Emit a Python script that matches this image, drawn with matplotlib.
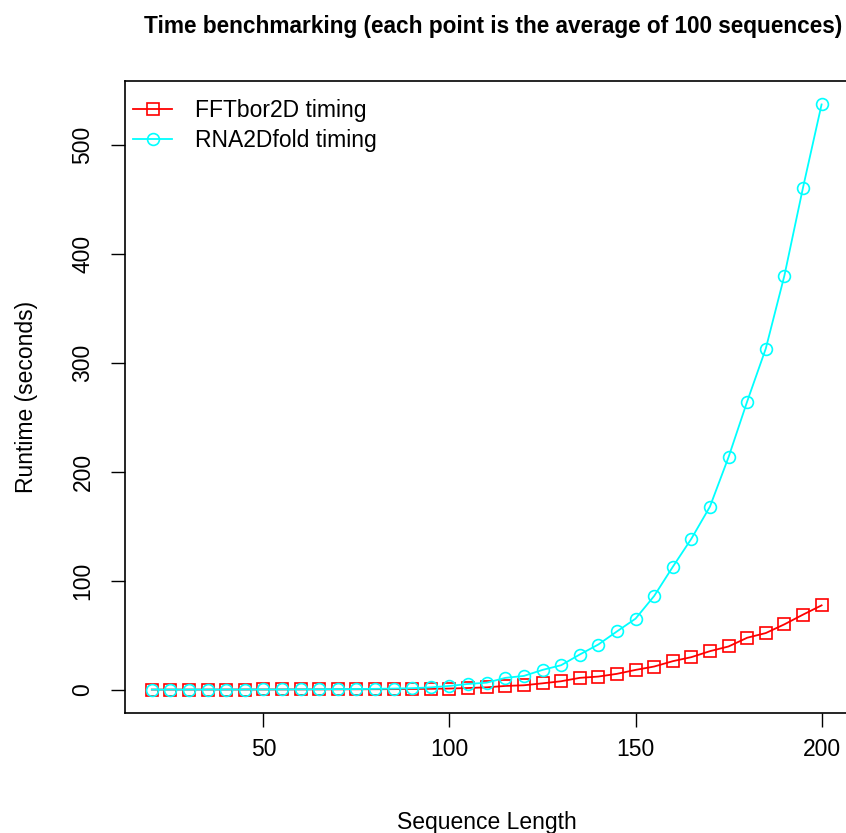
import numpy as np
import matplotlib.pyplot as plt

plt.rcParams['font.family'] = ['Liberation Sans', 'DejaVu Sans']

# sequence lengths 20..200 in steps of 5
seq_len = list(range(20, 201, 5))

fftbor2d = [0.05, 0.06, 0.07, 0.08, 0.10, 0.12, 0.14, 0.17, 0.20, 0.24, 0.28, 0.33,
            0.39, 0.46, 0.60, 0.75,
            1.0, 1.5, 2.1, 3.4, 4.0, 5.8, 7.7, 10.8, 12.0, 14.5, 18.1, 21.2, 26.1,
            29.8, 35.3, 39.6, 47.6, 51.9, 59.9, 68.8, 77.3]

rna2dfold = [0.01, 0.02, 0.03, 0.05, 0.07, 0.10, 0.14, 0.19, 0.25, 0.33, 0.43, 0.56,
             0.72, 0.95, 1.3, 2.1,
             3.4, 5.2, 6.4, 10.8, 12.6, 18.1, 22.4, 32.2, 41.4, 53.4, 65.1, 85.9,
             112.6, 138.4, 167.9, 213.3, 264.3, 312.8, 379.7, 460.4, 536.8]

fig = plt.figure(figsize=(8.46, 8.33), dpi=100)
ax = fig.add_axes([0.1478, 0.144, 0.855, 0.7587])

ax.plot(seq_len, fftbor2d, color='red', marker='s', markersize=8, markerfacecolor='none',
        markeredgewidth=1.2, linewidth=1.3, label='FFTbor2D timing')
ax.plot(seq_len, rna2dfold, color='cyan', marker='o', markersize=8.5, markerfacecolor='none',
        markeredgewidth=1.2, linewidth=1.3, label='RNA2Dfold timing')

ax.set_xlim(12.8, 207.2)
ymax = max(rna2dfold)
ax.set_ylim(-0.04 * ymax, ymax * 1.04)

ax.set_xticks([50, 100, 150, 200])
ax.set_yticks([0, 100, 200, 300, 400, 500])
ax.tick_params(axis='x', labelsize=16.5, length=10, width=1, direction='out', pad=8)
ax.tick_params(axis='y', labelsize=16.5, length=10, width=1, direction='out', pad=12)
for lab in ax.get_yticklabels():
    lab.set_rotation(90)
    lab.set_va('center')

for s in ax.spines.values():
    s.set_linewidth(1.2)
# the right edge of the box falls outside the cropped picture
ax.spines['right'].set_visible(False)

ax.set_xlabel('Sequence Length', fontsize=16.5, labelpad=36)
ax.set_ylabel('Runtime (seconds)', fontsize=16.5, labelpad=24)
fig.text(0.996, 0.968, 'Time benchmarking (each point is the average of 100 sequences)',
         ha='right', va='center', fontsize=16.3, fontweight='bold')

ax.legend(loc='upper left', bbox_to_anchor=(0.002, 0.982), frameon=False, fontsize=16.5,
          handlelength=1.7, borderaxespad=0, borderpad=0.3, handletextpad=1.0,
          labelspacing=0.3)

fig.savefig('out.png', dpi=100)
